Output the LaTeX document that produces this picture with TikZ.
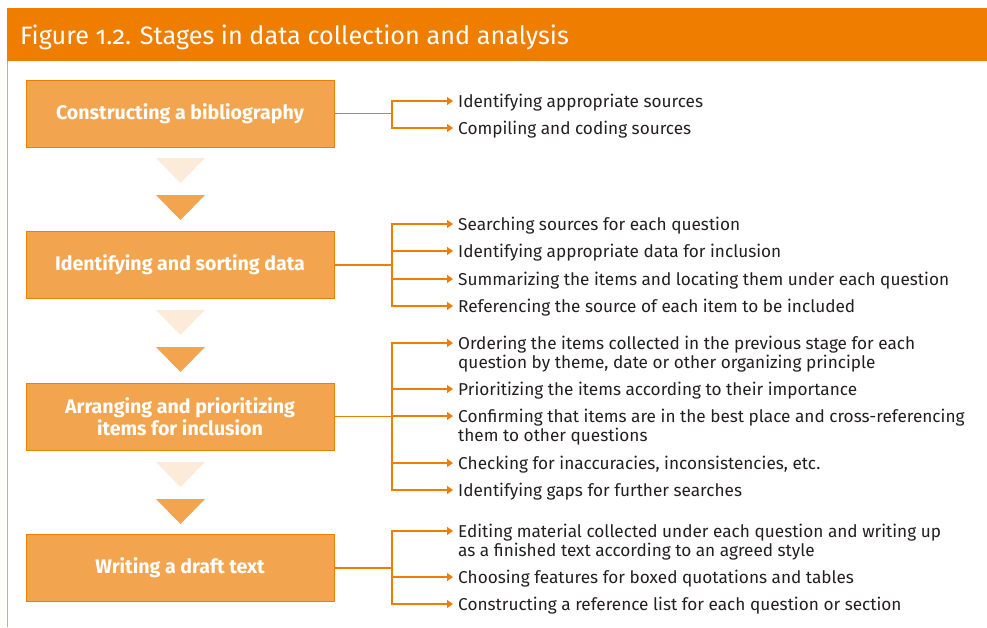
\documentclass[tikz,border=0pt]{standalone}
\usepackage{fontspec}
\setmainfont{Fira Sans}
\newfontfamily\titlefont[Numbers=OldStyle]{Fira Sans}
\usetikzlibrary{positioning, arrows.meta}

\definecolor{bandorange}{HTML}{EF7D00}
\definecolor{boxorange}{HTML}{F2A54E}
\definecolor{paleorange}{HTML}{FCEBD9}
\definecolor{itemgrey}{HTML}{231F20}

\tikzset{
  stage/.style={rectangle, fill=boxorange, draw=bandorange, line width=1pt,
    minimum width=308pt, minimum height=67pt, inner sep=0pt, align=center,
    text=white, font=\fontsize{19.6}{22}\selectfont\bfseries},
  item/.style={anchor=north west, yshift=7.5pt, inner sep=0pt, align=left,
    text=itemgrey, font=\fontsize{17.2}{19}\selectfont,
    execute at begin node=\strut},
  link/.style={draw=bandorange, line width=1.1pt},
  feed/.style={link, shorten >=5pt, -{Triangle[length=6pt,width=8pt]}},
}

\begin{document}
\begin{tikzpicture}[x=1pt,y=-1pt]
  \useasboundingbox (0,0) rectangle (987,627);

  % title band and frame
  \fill[bandorange] (7,8) rectangle (987,61);
  \draw[boxorange, line width=1.2pt] (7.5,61) -- (7.5,627);
  \node[anchor=base west, inner sep=0pt, text=white,
        font=\titlefont\fontsize{25.2}{30}\selectfont] (title) at (20,44)
        {Figure 1.2. Stages in data collection and analysis};

  % stages
  \node[stage] (s1) at (180,113.5) {Constructing a bibliography};
  \node[stage] (s2) at (180,265) {Identifying and sorting data};
  \node[stage] (s3) at (180,416.5) {Arranging and prioritizing\\items for inclusion};
  \node[stage] (s4) at (180,568) {Writing a draft text};

  % down triangles between stages
  \foreach \y in {158,310,462}{
    \fill[paleorange] (156,\y) -- (205,\y) -- (180.5,\y+25) -- cycle;
    \fill[boxorange] (156,\y+37) -- (205,\y+37) -- (180.5,\y+62) -- cycle;
  }

  % branch points
  \coordinate (j1) at (392,113.5);
  \coordinate (j2) at (392,265);
  \coordinate (j3) at (392,416.5);
  \coordinate (j4) at (392,568);

  % items
  \node[item] (a1) at (458,101) {Identifying appropriate sources};
  \node[item] (a2) at (458,128) {Compiling and coding sources};

  \node[item] (b1) at (458,224) {Searching sources for each question};
  \node[item] (b2) at (458,251) {Identifying appropriate data for inclusion};
  \node[item] (b3) at (458,279) {Summarizing the items and locating them under each question};
  \node[item] (b4) at (458,306) {Referencing the source of each item to be included};

  \node[item] (c1) at (458,343) {Ordering the items collected in the previous stage for each\\question by theme, date or other organizing principle};
  \node[item] (c2) at (458,389) {Prioritizing the items according to their importance};
  \node[item] (c3) at (458,416) {Confirming that items are in the best place and cross-referencing\\them to other questions};
  \node[item] (c4) at (458,463) {Checking for inaccuracies, inconsistencies, etc.};
  \node[item] (c5) at (458,490) {Identifying gaps for further searches};

  \node[item] (d1) at (458,531) {Editing material collected under each question and writing up\\as a finished text according to an agreed style};
  \node[item] (d2) at (458,577) {Choosing features for boxed quotations and tables};
  \node[item] (d3) at (458,604) {Constructing a reference list for each question or section};

  % connectors
  \draw[link] (s1.east) -- (j1);
  \draw[link] (s2.east) -- (j2);
  \draw[link] (s3.east) -- (j3);
  \draw[link] (s4.east) -- (j4);
  \foreach \n in {a1,a2}
    \draw[feed] (j1) |- ([yshift=-7.5pt]\n.north west);
  \foreach \n in {b1,b2,b3,b4}
    \draw[feed] (j2) |- ([yshift=-7.5pt]\n.north west);
  \foreach \n in {c1,c2,c3,c4,c5}
    \draw[feed] (j3) |- ([yshift=-7.5pt]\n.north west);
  \foreach \n in {d1,d2,d3}
    \draw[feed] (j4) |- ([yshift=-7.5pt]\n.north west);
\end{tikzpicture}
\end{document}
